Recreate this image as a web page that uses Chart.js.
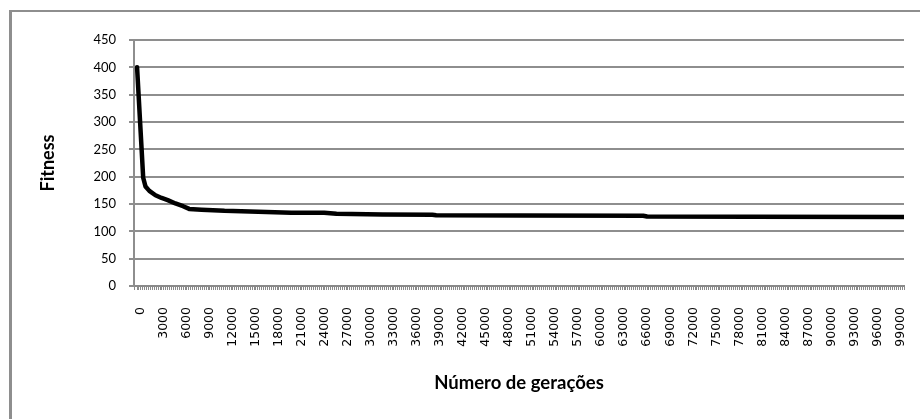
<!DOCTYPE html>
<html>
<head>
<meta charset="utf-8">
<script src="https://cdn.jsdelivr.net/npm/chart.js@4"></script>
<style>
  html, body { margin: 0; padding: 0; background: #fff; }
  #wrap { position: relative; width: 920px; height: 419px; overflow: hidden; }
  #frame { position: absolute; left: 9px; top: 10px; width: 960px; height: 460px;
           border-left: 3px solid #8e8e8e; border-top: 2px solid #8e8e8e; }
  canvas { position: absolute; left: 0; top: 0; }
</style>
</head>
<body>
<div id="wrap">
  <div id="frame"></div>
  <canvas id="chart" width="920" height="419"></canvas>
</div>
<script>
// Fitness by generation
const generations = [0, 800, 1100, 1600, 2400, 3200, 4000, 5000, 6000, 6800, 8400, 11400, 15800, 20100, 24400, 26000, 32000, 38500, 39000, 50000, 66000, 66500, 80000, 100000];
const fitness =     [400, 198, 182, 174, 166, 161, 157, 151, 146, 141, 139.5, 137.5, 136, 134, 134, 132, 131, 130.5, 129.5, 129, 128.5, 127, 126.5, 126];

// x labels shown (every 3000 generations)
const xTickLabels = [0, 3000, 6000, 9000, 12000, 15000, 18000, 21000, 24000, 27000, 30000, 33000, 36000, 39000, 42000, 45000, 48000, 51000, 54000, 57000, 60000, 63000, 66000, 69000, 72000, 75000, 78000, 81000, 84000, 87000, 90000, 93000, 96000, 99000];
const yTicks = [0, 50, 100, 150, 200, 250, 300, 350, 400, 450];

const points = generations.map((g, i) => ({ x: g, y: fitness[i] }));

new Chart(document.getElementById('chart'), {
    type: 'line',
    data: {
        datasets: [{
            label: 'Fitness',
            data: points,
            borderColor: '#000',
            borderWidth: 4.5,
            pointRadius: 0,
            tension: 0,
            borderJoinStyle: 'round',
            borderCapStyle: 'round',
            fill: false
        }]
    },
    options: {
        responsive: false,
        animation: false,
        layout: { padding: { left: 36, right: 16, top: 40, bottom: 25 } },
        plugins: {
            legend: { display: false },
            tooltip: { enabled: false }
        },
        scales: {
            x: {
                type: 'linear',
                min: -400,
                max: 100000,
                afterFit: (scale) => {
                    scale.height = 108;
                    scale.paddingLeft = 0;
                    scale.paddingRight = 0;
                },
                grid: { drawOnChartArea: false, drawTicks: true, tickLength: 4, color: '#8a8a8a', lineWidth: 1 },
                border: { display: true, color: '#8a8a8a', width: 2 },
                ticks: {
                    stepSize: 250,
                    autoSkip: false,
                    minRotation: 90,
                    maxRotation: 90,
                    padding: 17,
                    labelOffset: 4,
                    color: '#000',
                    font: { family: 'DejaVu Sans', size: 12.5 },
                    callback: (v) => xTickLabels.includes(v) ? String(v) : ''
                },
                title: {
                    display: true,
                    text: 'Número de gerações',
                    color: '#000',
                    font: { family: 'Lato', size: 18.5, weight: 'bold' },
                    padding: { top: 0, bottom: 0 }
                }
            },
            y: {
                min: 0,
                max: 450,
                afterFit: (scale) => { scale.width = 98; },
                afterBuildTicks: (scale) => { scale.ticks = yTicks.map(v => ({ value: v })); },
                grid: { color: '#8e8e8e', lineWidth: 2, tickLength: 5 },
                border: { display: true, color: '#8e8e8e', width: 2 },
                ticks: {
                    padding: 13,
                    color: '#000',
                    font: { family: 'Lato', size: 13 }
                },
                title: {
                    display: true,
                    text: 'Fitness',
                    color: '#000',
                    font: { family: 'Lato', size: 18, weight: 'bold' },
                    padding: { top: 1, bottom: 0 }
                }
            }
        }
    }
});
</script>
</body>
</html>
